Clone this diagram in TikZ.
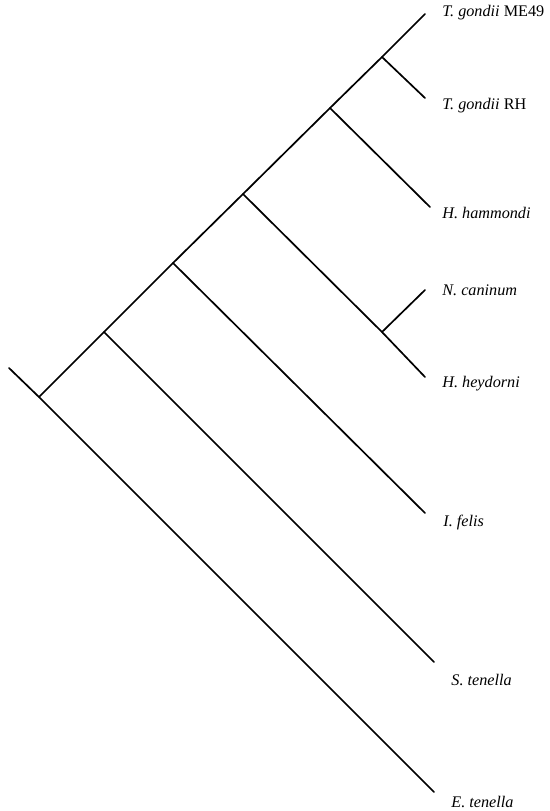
\documentclass[tikz,border=0pt]{standalone}
\usepackage{fontspec}
\setmainfont{Liberation Serif}
\usepackage{tikz}
\usetikzlibrary{positioning}

\begin{document}
\begin{tikzpicture}[x=0.5pt, y=-0.5pt,
		ast/.style={line width=0.85pt, line cap=round},
		taxon/.style={anchor=west, inner sep=0pt, font=\fontsize{8.1}{9.5}\selectfont}]
		% Bildbereich
		\useasboundingbox (0,0) rectangle (550,811);
		% Verzweigungspunkte
		\coordinate (stub) at (9,368);
		\coordinate (root) at (39,397);
		\coordinate (kS) at (104,332);
		\coordinate (kI) at (173,263);
		\coordinate (kH) at (243,194);
		\coordinate (kN) at (382,332);
		\coordinate (kHh) at (330,108);
		\coordinate (kT) at (382,57);
		% Blattenden
		\coordinate (tME) at (425,14);
		\coordinate (tRH) at (425,98);
		\coordinate (tHam) at (430,207);
		\coordinate (tCan) at (425,290);
		\coordinate (tHey) at (425,377);
		\coordinate (tFel) at (425,513);
		\coordinate (tSte) at (434,662);
		\coordinate (tEte) at (434,792);
		% Taxa beschriften
		\node[taxon] (me49) at (442,13) {\textit{T. gondii} ME49};
		\node[taxon] (rh) at (442,106) {\textit{T. gondii} RH};
		\node[taxon] (ham) at (442,213) {\textit{H. hammondi}};
		\node[taxon] (can) at (442,290) {\textit{N. caninum}};
		\node[taxon] (hey) at (442,384) {\textit{H. heydorni}};
		\node[taxon] (fel) at (443,523) {\textit{I. felis}};
		\node[taxon] (ste) at (451,680) {\textit{S. tenella}};
		\node[taxon] (ete) at (451,802) {\textit{E. tenella}};
		% Baum zeichnen
		\draw[ast] (stub) -- (root) -- (tEte);
		\draw[ast] (root) -- (kS) -- (kI) -- (kH) -- (kHh) -- (kT) -- (tME);
		\draw[ast] (kS) -- (tSte);
		\draw[ast] (kI) -- (tFel);
		\draw[ast] (kH) -- (kN) -- (tHey);
		\draw[ast] (kN) -- (tCan);
		\draw[ast] (kHh) -- (tHam);
		\draw[ast] (kT) -- (tRH);
	\end{tikzpicture}
\end{document}
